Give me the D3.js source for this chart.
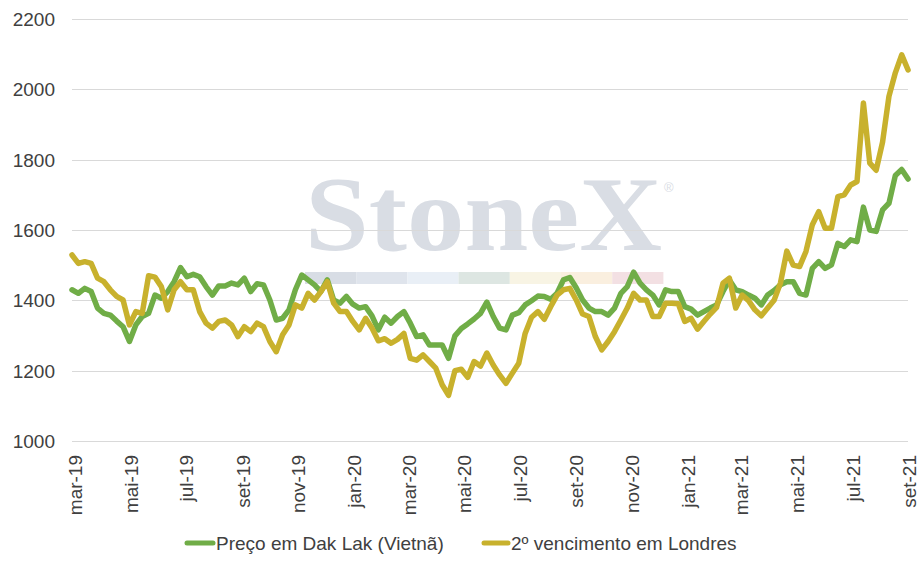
<!DOCTYPE html>
<html>
<head>
<meta charset="utf-8">
<script src="https://cdn.jsdelivr.net/npm/d3@7"></script>
<style>
  body { margin: 0; background: #fff; }
  .chart-text { font-family: "Liberation Sans", Arial, sans-serif; fill: #404040; }
</style>
</head>
<body>
<div id="chart-area"></div>
<script>
// weekly observations (US$/t)
const dates = [
  "2019-02-26","2019-03-05","2019-03-12","2019-03-19","2019-03-26","2019-04-02","2019-04-09","2019-04-16","2019-04-23","2019-04-30",
  "2019-05-07","2019-05-14","2019-05-21","2019-05-28","2019-06-04","2019-06-11","2019-06-18","2019-06-25","2019-07-02","2019-07-09",
  "2019-07-16","2019-07-23","2019-07-30","2019-08-06","2019-08-13","2019-08-20","2019-08-27","2019-09-03","2019-09-10","2019-09-17",
  "2019-09-24","2019-10-01","2019-10-08","2019-10-15","2019-10-22","2019-10-29","2019-11-05","2019-11-12","2019-11-19","2019-11-26",
  "2019-12-03","2019-12-10","2019-12-17","2019-12-24","2019-12-31","2020-01-07","2020-01-14","2020-01-21","2020-01-28","2020-02-04",
  "2020-02-11","2020-02-18","2020-02-25","2020-03-03","2020-03-10","2020-03-17","2020-03-24","2020-03-31","2020-04-07","2020-04-14",
  "2020-04-21","2020-04-28","2020-05-05","2020-05-12","2020-05-19","2020-05-26","2020-06-02","2020-06-09","2020-06-16","2020-06-23",
  "2020-06-30","2020-07-07","2020-07-14","2020-07-21","2020-07-28","2020-08-04","2020-08-11","2020-08-18","2020-08-25","2020-09-01",
  "2020-09-08","2020-09-15","2020-09-22","2020-09-29","2020-10-06","2020-10-13","2020-10-20","2020-10-27","2020-11-03","2020-11-10",
  "2020-11-17","2020-11-24","2020-12-01","2020-12-08","2020-12-15","2020-12-22","2020-12-29","2021-01-05","2021-01-12","2021-01-19",
  "2021-01-26","2021-02-02","2021-02-09","2021-02-16","2021-02-23","2021-03-02","2021-03-09","2021-03-16","2021-03-23","2021-03-30",
  "2021-04-06","2021-04-13","2021-04-20","2021-04-27","2021-05-04","2021-05-11","2021-05-18","2021-05-25","2021-06-01","2021-06-08",
  "2021-06-15","2021-06-22","2021-06-29","2021-07-06","2021-07-13","2021-07-20","2021-07-27","2021-08-03","2021-08-10","2021-08-17",
  "2021-08-24","2021-08-31"
];

const dakLak = [
  1430,1420,1434,1425,1378,1363,1358,1341,1325,1283,1330,1354,1363,1415,1406,1425,1453,1493,1467,1474,
  1467,1439,1415,1441,1441,1449,1444,1463,1425,1447,1444,1401,1344,1349,1373,1430,1472,1458,1444,1425,
  1458,1401,1392,1411,1389,1378,1382,1356,1316,1352,1335,1354,1368,1335,1297,1302,1273,1273,1273,1235,
  1299,1320,1333,1347,1363,1395,1354,1321,1316,1358,1365,1387,1399,1412,1411,1403,1420,1458,1465,1436,
  1401,1378,1368,1368,1358,1378,1420,1439,1480,1449,1430,1415,1387,1430,1425,1425,1382,1375,1358,1368,
  1378,1387,1425,1458,1430,1425,1415,1406,1387,1415,1428,1444,1453,1453,1420,1415,1491,1510,1491,1501,
  1562,1553,1572,1567,1665,1600,1596,1657,1676,1755,1772,1745
];

const londres = [
  1529,1505,1510,1505,1463,1453,1430,1411,1401,1330,1368,1363,1470,1466,1439,1373,1430,1453,1430,1430,
  1368,1335,1321,1340,1344,1330,1297,1325,1311,1335,1325,1283,1254,1302,1330,1387,1378,1420,1401,1425,
  1453,1392,1368,1368,1340,1316,1349,1321,1285,1291,1278,1289,1306,1235,1230,1245,1226,1207,1160,1130,
  1200,1204,1181,1226,1213,1250,1216,1188,1164,1193,1221,1306,1352,1368,1346,1382,1415,1430,1434,1401,
  1361,1354,1297,1259,1283,1311,1344,1378,1420,1401,1401,1354,1354,1392,1392,1390,1340,1349,1318,1340,
  1361,1380,1449,1463,1378,1415,1399,1373,1356,1378,1400,1449,1540,1500,1496,1539,1615,1652,1605,1605,
  1695,1700,1728,1738,1961,1790,1770,1850,1980,2047,2098,2055
];

const seriesNames = ["Preço em Dak Lak (Vietnã)", "2º vencimento em Londres"];
const yTicks = [1000, 1200, 1400, 1600, 1800, 2000, 2200];
const tickLabels = ["mar-19","mai-19","jul-19","set-19","nov-19","jan-20","mar-20","mai-20",
                    "jul-20","set-20","nov-20","jan-21","mar-21","mai-21","jul-21","set-21"];
const monthNames = ["jan","fev","mar","abr","mai","jun","jul","ago","set","out","nov","dez"];

const chart = {
  totalWidth: 921,
  totalHeight: 567,
  plotLeft: 72,
  plotRight: 908,
  plotTop: 19,
  plotBottom: 441,
  colors: ["#70ad47", "#c8b12d"],
  bandColors: ["#d8dde5","#dfe4ec","#e9eff6","#dde6e2","#f8f4e4","#faefdf","#f3e0e3"],
  svg: undefined,
  x: undefined,
  y: undefined,

  setup: function() {
    this.svg = d3.select("#chart-area")
      .append("svg")
        .attr("width", this.totalWidth)
        .attr("height", this.totalHeight);

    const parse = d3.timeParse("%Y-%m-%d");
    this.x = d3.scaleTime()
      .domain([parse("2019-02-26"), parse("2021-09-01")])
      .range([this.plotLeft, 909]);
    this.y = d3.scaleLinear()
      .domain([1000, 2200])
      .range([this.plotBottom, this.plotTop]);
  },

  addWatermark: function() {
    const wm = this.svg.append("g");
    wm.append("text")
      .attr("x", 305)
      .attr("y", 250)
      .attr("font-family", "'Liberation Serif', 'Times New Roman', serif")
      .attr("font-size", 106)
      .attr("font-weight", "bold")
      .attr("textLength", 357)
      .attr("lengthAdjust", "spacingAndGlyphs")
      .attr("fill", "#d9dde4")
      .text("StoneX");
    wm.append("text")
      .attr("x", 664)
      .attr("y", 192)
      .attr("font-family", "'Liberation Sans', Arial, sans-serif")
      .attr("font-size", 13)
      .attr("fill", "#d9dde4")
      .text("®");
    this.bandColors.forEach((c, i) => {
      wm.append("rect")
        .attr("x", 305 + i * 51.2)
        .attr("y", 272)
        .attr("width", 51.2)
        .attr("height", 12)
        .attr("fill", c);
    });
  },

  addAxes: function() {
    // horizontal gridlines
    this.svg.append("g")
      .selectAll("line")
      .data(yTicks)
      .join("line")
        .attr("x1", this.plotLeft)
        .attr("x2", this.plotRight)
        .attr("y1", d => Math.round(this.y(d)) + 0.5)
        .attr("y2", d => Math.round(this.y(d)) + 0.5)
        .attr("stroke", "#d9d9d9")
        .attr("stroke-width", 1);

    const yAxis = this.svg.append("g")
      .attr("transform", "translate(" + this.plotLeft + ",0)")
      .call(d3.axisLeft(this.y).tickValues(yTicks).tickSize(0).tickPadding(17).tickFormat(d3.format("d")));
    yAxis.select(".domain").remove();
    yAxis.selectAll("text")
      .attr("class", "chart-text")
      .attr("font-size", "19px")
      .attr("dy", "0.34em");

    const tickDates = tickLabels.map(s => {
      const [m, yy] = s.split("-");
      return new Date(2000 + (+yy), monthNames.indexOf(m), 1);
    });
    const xAxis = this.svg.append("g")
      .attr("transform", "translate(0," + this.plotBottom + ")")
      .call(d3.axisBottom(this.x).tickValues(tickDates).tickSize(0)
        .tickFormat((d, i) => tickLabels[i]));
    xAxis.select(".domain").remove();
    xAxis.selectAll("text")
      .attr("class", "chart-text")
      .attr("font-size", "19px")
      .attr("text-anchor", "end")
      .attr("transform", "rotate(-90)")
      .attr("x", -14)
      .attr("y", 0)
      .attr("dy", "0.35em");
  },

  addLines: function() {
    const parse = d3.timeParse("%Y-%m-%d");
    const t = dates.map(parse);
    [dakLak, londres].forEach((values, s) => {
      const line = d3.line()
        .x((d, i) => this.x(t[i]))
        .y(d => this.y(d));
      this.svg.append("path")
        .datum(values)
        .attr("fill", "none")
        .attr("stroke", this.colors[s])
        .attr("stroke-width", 5.5)
        .attr("stroke-linejoin", "round")
        .attr("stroke-linecap", "round")
        .attr("d", line);
    });
  },

  addLegend: function() {
    const items = [{ x: 185, w: 30 }, { x: 482, w: 28 }];
    seriesNames.forEach((name, i) => {
      const g = this.svg.append("g")
        .attr("transform", "translate(" + items[i].x + ",543)");
      g.append("line")
        .attr("x1", 2)
        .attr("x2", items[i].w - 2)
        .attr("stroke", this.colors[i])
        .attr("stroke-width", 5)
        .attr("stroke-linecap", "round");
      g.append("text")
        .attr("class", "chart-text")
        .attr("x", items[i].w + 1)
        .attr("y", 7)
        .attr("font-size", "19px")
        .text(name);
    });
  },

  start: function() {
    this.setup();
    this.addWatermark();
    this.addAxes();
    this.addLines();
    this.addLegend();
  }
};

chart.start();
</script>
</body>
</html>
